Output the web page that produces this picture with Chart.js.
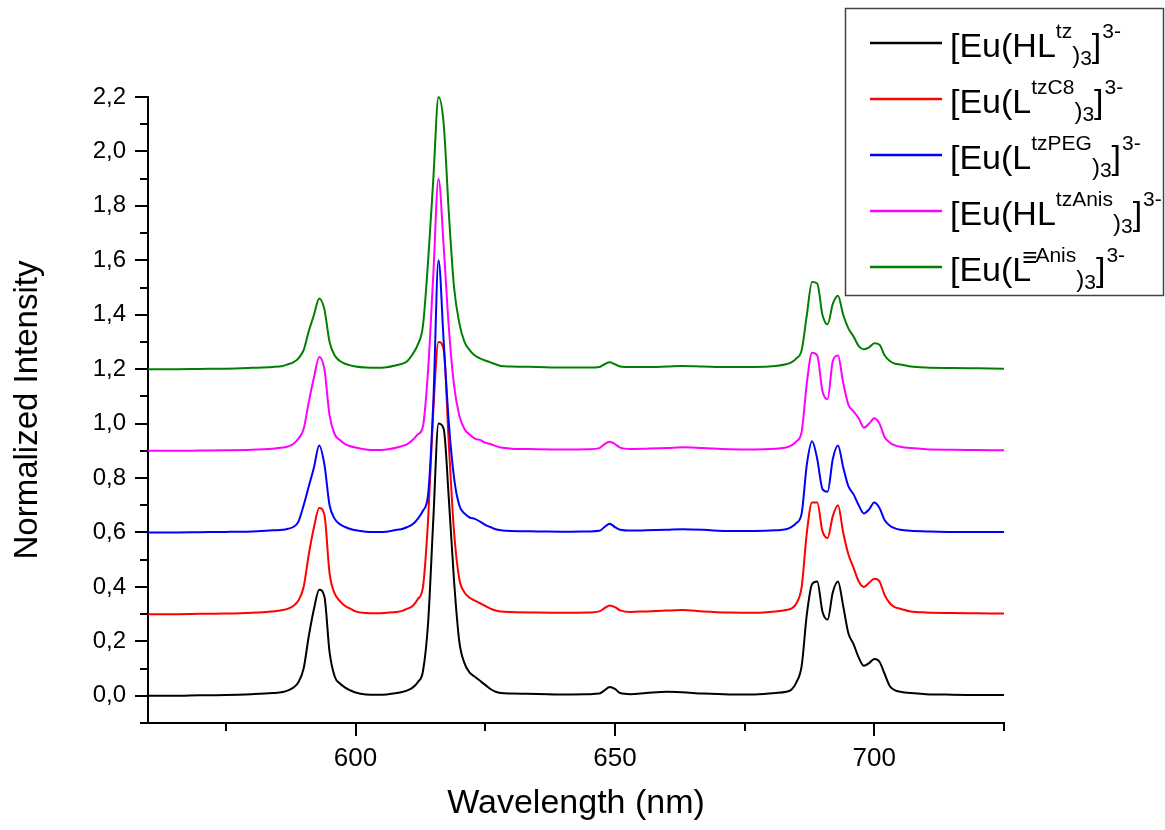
<!DOCTYPE html>
<html><head><meta charset="utf-8">
<script src="https://cdn.jsdelivr.net/npm/chart.js@4.4.1/dist/chart.umd.min.js"></script>
<style>html,body{margin:0;padding:0;background:#fff;}#wrap{width:1165px;height:830px;}</style>
</head><body><div id="wrap"><canvas id="c" width="1165" height="830"></canvas></div>
<script>
// ---- data ----
const wavelengths = [
  560,565,570,575,580,584,586,587,588,589,590,591,592,593,594,595,596,597,598,599,600,
  602,604,606,608,609,610,611,612,613,614,615,616,617,618,619,620,621,622,623,624,625,626,627,628,
  630,635,640,645,647,648,649,650,651,653,656,660,663,667,672,677,681,683,
  684,685,686,687,688,689,690,691,692,693,694,695,696,697,698,699,700,701,702,703,704,705,
  707,710,715,720,725];

const euHLtz = [
  0,0,0.002,0.003,0.006,0.01,0.014,0.02,0.03,0.05,0.1,0.22,0.32,0.39,0.365,0.16,0.07,0.045,0.03,0.02,0.012,
  0.005,0.004,0.005,0.01,0.014,0.02,0.03,0.05,0.09,0.27,0.65,1.0,0.98,0.72,0.42,0.2,0.12,0.085,0.07,0.055,0.04,0.025,0.015,0.01,
  0.008,0.007,0.005,0.006,0.008,0.02,0.032,0.025,0.01,0.006,0.01,0.015,0.013,0.008,0.005,0.005,0.01,0.015,
  0.022,0.05,0.11,0.3,0.41,0.42,0.31,0.28,0.38,0.42,0.33,0.23,0.19,0.14,0.11,0.12,0.135,0.125,0.08,0.035,0.02,0.015,
  0.01,0.006,0.004,0.003,0.003];

const euLtzC8 = [
  0,0,0.001,0.002,0.005,0.01,0.015,0.02,0.03,0.05,0.1,0.22,0.32,0.39,0.365,0.15,0.075,0.048,0.03,0.02,0.01,
  0.004,0.003,0.005,0.008,0.012,0.02,0.03,0.055,0.1,0.35,0.75,1.0,0.97,0.62,0.3,0.13,0.08,0.06,0.05,0.04,0.03,0.02,0.013,0.01,
  0.008,0.006,0.005,0.006,0.01,0.022,0.032,0.026,0.014,0.008,0.01,0.013,0.015,0.01,0.006,0.005,0.01,0.015,
  0.02,0.04,0.1,0.3,0.41,0.41,0.305,0.28,0.36,0.4,0.3,0.22,0.17,0.12,0.1,0.115,0.13,0.12,0.07,0.04,0.025,0.02,
  0.01,0.006,0.004,0.003,0.002];

const euLtzPEG = [
  0,0,0.001,0.002,0.004,0.008,0.01,0.014,0.02,0.04,0.1,0.17,0.24,0.32,0.25,0.1,0.05,0.03,0.02,0.013,0.008,
  0.003,0.002,0.003,0.01,0.013,0.02,0.03,0.05,0.08,0.14,0.48,1.0,0.7,0.4,0.2,0.1,0.07,0.055,0.05,0.04,0.028,0.02,0.012,0.008,
  0.005,0.004,0.003,0.004,0.006,0.02,0.032,0.02,0.01,0.007,0.008,0.01,0.012,0.01,0.005,0.005,0.008,0.012,
  0.02,0.035,0.07,0.25,0.335,0.27,0.16,0.15,0.27,0.32,0.24,0.17,0.14,0.1,0.07,0.085,0.11,0.09,0.045,0.025,0.015,0.01,
  0.006,0.004,0.002,0.002,0.002];

const euHLtzAnis = [
  0,0,0.001,0.002,0.004,0.008,0.012,0.016,0.025,0.045,0.08,0.18,0.27,0.345,0.3,0.13,0.06,0.04,0.025,0.017,0.012,
  0.005,0.003,0.005,0.012,0.018,0.025,0.04,0.06,0.09,0.3,0.65,1.0,0.75,0.45,0.24,0.13,0.08,0.06,0.045,0.04,0.03,0.025,0.018,0.012,
  0.008,0.006,0.005,0.006,0.01,0.025,0.033,0.025,0.012,0.007,0.008,0.01,0.013,0.01,0.006,0.005,0.008,0.012,
  0.02,0.035,0.07,0.25,0.36,0.35,0.22,0.19,0.33,0.35,0.25,0.17,0.145,0.12,0.085,0.1,0.12,0.1,0.05,0.03,0.02,0.015,
  0.01,0.006,0.004,0.003,0.002];

const euLAnis = [
  0,0,0.001,0.002,0.005,0.008,0.012,0.018,0.025,0.04,0.07,0.14,0.2,0.26,0.22,0.1,0.05,0.03,0.02,0.014,0.01,
  0.006,0.005,0.007,0.015,0.02,0.03,0.055,0.09,0.16,0.4,0.7,1.0,0.9,0.57,0.3,0.17,0.1,0.07,0.05,0.04,0.032,0.025,0.018,0.012,
  0.01,0.008,0.006,0.006,0.008,0.018,0.025,0.018,0.01,0.008,0.008,0.01,0.012,0.01,0.008,0.008,0.012,0.018,
  0.025,0.04,0.07,0.2,0.32,0.315,0.2,0.165,0.24,0.27,0.2,0.15,0.12,0.085,0.073,0.08,0.095,0.09,0.05,0.03,0.02,0.017,
  0.01,0.006,0.004,0.003,0.002];

const offsets = [0, 0.3, 0.6, 0.9, 1.2];
const seriesValues = [euHLtz, euLtzC8, euLtzPEG, euHLtzAnis, euLAnis];
const seriesColors = ['#000000', '#ff0000', '#0000ff', '#ff00ff', '#008000'];
const legendPrefix = ['[Eu(HL', '[Eu(L', '[Eu(L', '[Eu(HL', '[Eu(L'];
const legendSup = ['tz', 'tzC8', 'tzPEG', 'tzAnis', '\u2261Anis'];
const legendSub = ['3', '3', '3', '3', '3'];
const legendCharge = ['3-', '3-', '3-', '3-', '3-'];

const xTickValues = [600, 650, 700];
const xMinorValues = [575, 625, 675, 725];
const yTickValues = [0, 0.2, 0.4, 0.6, 0.8, 1.0, 1.2, 1.4, 1.6, 1.8, 2.0, 2.2];
const yMinorValues = [-0.1, 0.1, 0.3, 0.5, 0.7, 0.9, 1.1, 1.3, 1.5, 1.7, 1.9, 2.1];
const xTitle = 'Wavelength (nm)';
const yTitle = 'Normalized Intensity';

const FONT = '"Liberation Sans", Arial, Helvetica, sans-serif';

const datasets = seriesValues.map((vals, k) => ({
  label: legendPrefix[k] + legendSup[k] + ')' + legendSub[k] + ']' + legendCharge[k],
  data: wavelengths.map((w, i) => ({x: w, y: vals[i] + offsets[k]})),
  borderColor: seriesColors[k],
  backgroundColor: seriesColors[k],
  borderWidth: 2,
  pointRadius: 0,
  cubicInterpolationMode: 'monotone',
  fill: false,
  clip: 6,
  order: 4 - k
}));

const tickMarks = {
  id: 'tickMarks',
  afterDraw(chart) {
    const ctx = chart.ctx, xs = chart.scales.x, ys = chart.scales.y;
    const axY = ys.bottom;
    ctx.save();
    ctx.strokeStyle = '#000';
    ctx.lineWidth = 2;
    ctx.beginPath();
    xTickValues.forEach(v => { const p = Math.round(xs.getPixelForValue(v)); ctx.moveTo(p, axY); ctx.lineTo(p, axY + 13); });
    xMinorValues.forEach(v => { const p = Math.round(xs.getPixelForValue(v)); ctx.moveTo(p, axY); ctx.lineTo(p, axY + 8); });
    yTickValues.forEach(v => { const p = Math.round(ys.getPixelForValue(v)); ctx.moveTo(ys.right, p); ctx.lineTo(ys.right - 13, p); });
    yMinorValues.forEach(v => { const p = Math.round(ys.getPixelForValue(v)); ctx.moveTo(ys.right, p); ctx.lineTo(ys.right - 8, p); });
    ctx.stroke();
    ctx.restore();
  }
};

const customLegend = {
  id: 'customLegend',
  afterDraw(chart) {
    const ctx = chart.ctx;
    ctx.save();
    ctx.fillStyle = '#fff';
    ctx.fillRect(845, 8, 319, 287);
    ctx.strokeStyle = '#444';
    ctx.lineWidth = 1.5;
    ctx.strokeRect(845.5, 8.5, 318, 287);
    const mainF = '34px ' + FONT, supF = '21px ' + FONT, parF = '24px ' + FONT;
    chart.data.datasets.forEach((ds, i) => {
      const yl = 43 + i * 56;
      ctx.strokeStyle = ds.borderColor;
      ctx.lineWidth = 2.5;
      ctx.beginPath(); ctx.moveTo(870, yl); ctx.lineTo(942, yl); ctx.stroke();
      const base = yl + 14;
      ctx.fillStyle = '#000';
      ctx.textBaseline = 'alphabetic';
      ctx.textAlign = 'left';
      let x = 950;
      ctx.font = mainF;
      ctx.fillText(legendPrefix[i], x, base);
      x += ctx.measureText(legendPrefix[i]).width;
      ctx.font = supF;
      let sup = legendSup[i];
      if (sup.charAt(0) === '\u2261') {
        const bx = x - 9;
        ctx.font = '26px ' + FONT;
        ctx.fillText('\u2261', bx, base - 15);
        x = bx + ctx.measureText('\u2261').width - 2;
        ctx.font = supF;
        sup = sup.slice(1);
      }
      ctx.fillText(sup, x, base - 19);
      x += ctx.measureText(sup).width;
      ctx.font = parF;
      ctx.fillText(')', x, base + 6);
      x += ctx.measureText(')').width;
      ctx.font = supF;
      ctx.fillText(legendSub[i], x, base + 8);
      x += ctx.measureText(legendSub[i]).width;
      ctx.font = mainF;
      ctx.fillText(']', x, base);
      x += ctx.measureText(']').width + 1;
      ctx.font = supF;
      ctx.fillText(legendCharge[i], x, base - 19);
    });
    ctx.restore();
  }
};

new Chart(document.getElementById('c'), {
  type: 'line',
  data: { datasets },
  options: {
    responsive: false,
    animation: false,
    devicePixelRatio: 1,
    layout: { padding: { left: 0, right: 161, top: 97, bottom: 0 } },
    plugins: { legend: { display: false }, tooltip: { enabled: false } },
    scales: {
      x: {
        type: 'linear', min: 560, max: 725,
        afterFit(s) { s.height = 107; },
        afterBuildTicks(s) { s.ticks = xTickValues.map(v => ({ value: v })); },
        grid: { display: false, drawTicks: false, tickLength: 0 },
        border: { display: true, color: '#000', width: 2 },
        ticks: { color: '#000', font: { family: FONT, size: 26 }, padding: 20, maxRotation: 0, autoSkip: false,
                 callback: v => String(v) },
        title: { display: true, text: xTitle, color: '#000', font: { family: FONT, size: 34 }, padding: { top: 4, bottom: 6 } }
      },
      y: {
        type: 'linear', min: -0.1, max: 2.2,
        afterFit(s) { s.width = 148; },
        afterBuildTicks(s) { s.ticks = yTickValues.map(v => ({ value: v })); },
        grid: { display: false, drawTicks: false, tickLength: 0 },
        border: { display: true, color: '#000', width: 2 },
        ticks: { color: '#000', font: { family: FONT, size: 24 }, padding: 22, autoSkip: false,
                 callback: v => Number(v).toFixed(1).replace('.', ',') },
        title: { display: true, text: yTitle, color: '#000', font: { family: FONT, size: 33 }, padding: { top: 8, bottom: 4 } }
      }
    }
  },
  plugins: [tickMarks, customLegend]
});
</script>
</body></html>
